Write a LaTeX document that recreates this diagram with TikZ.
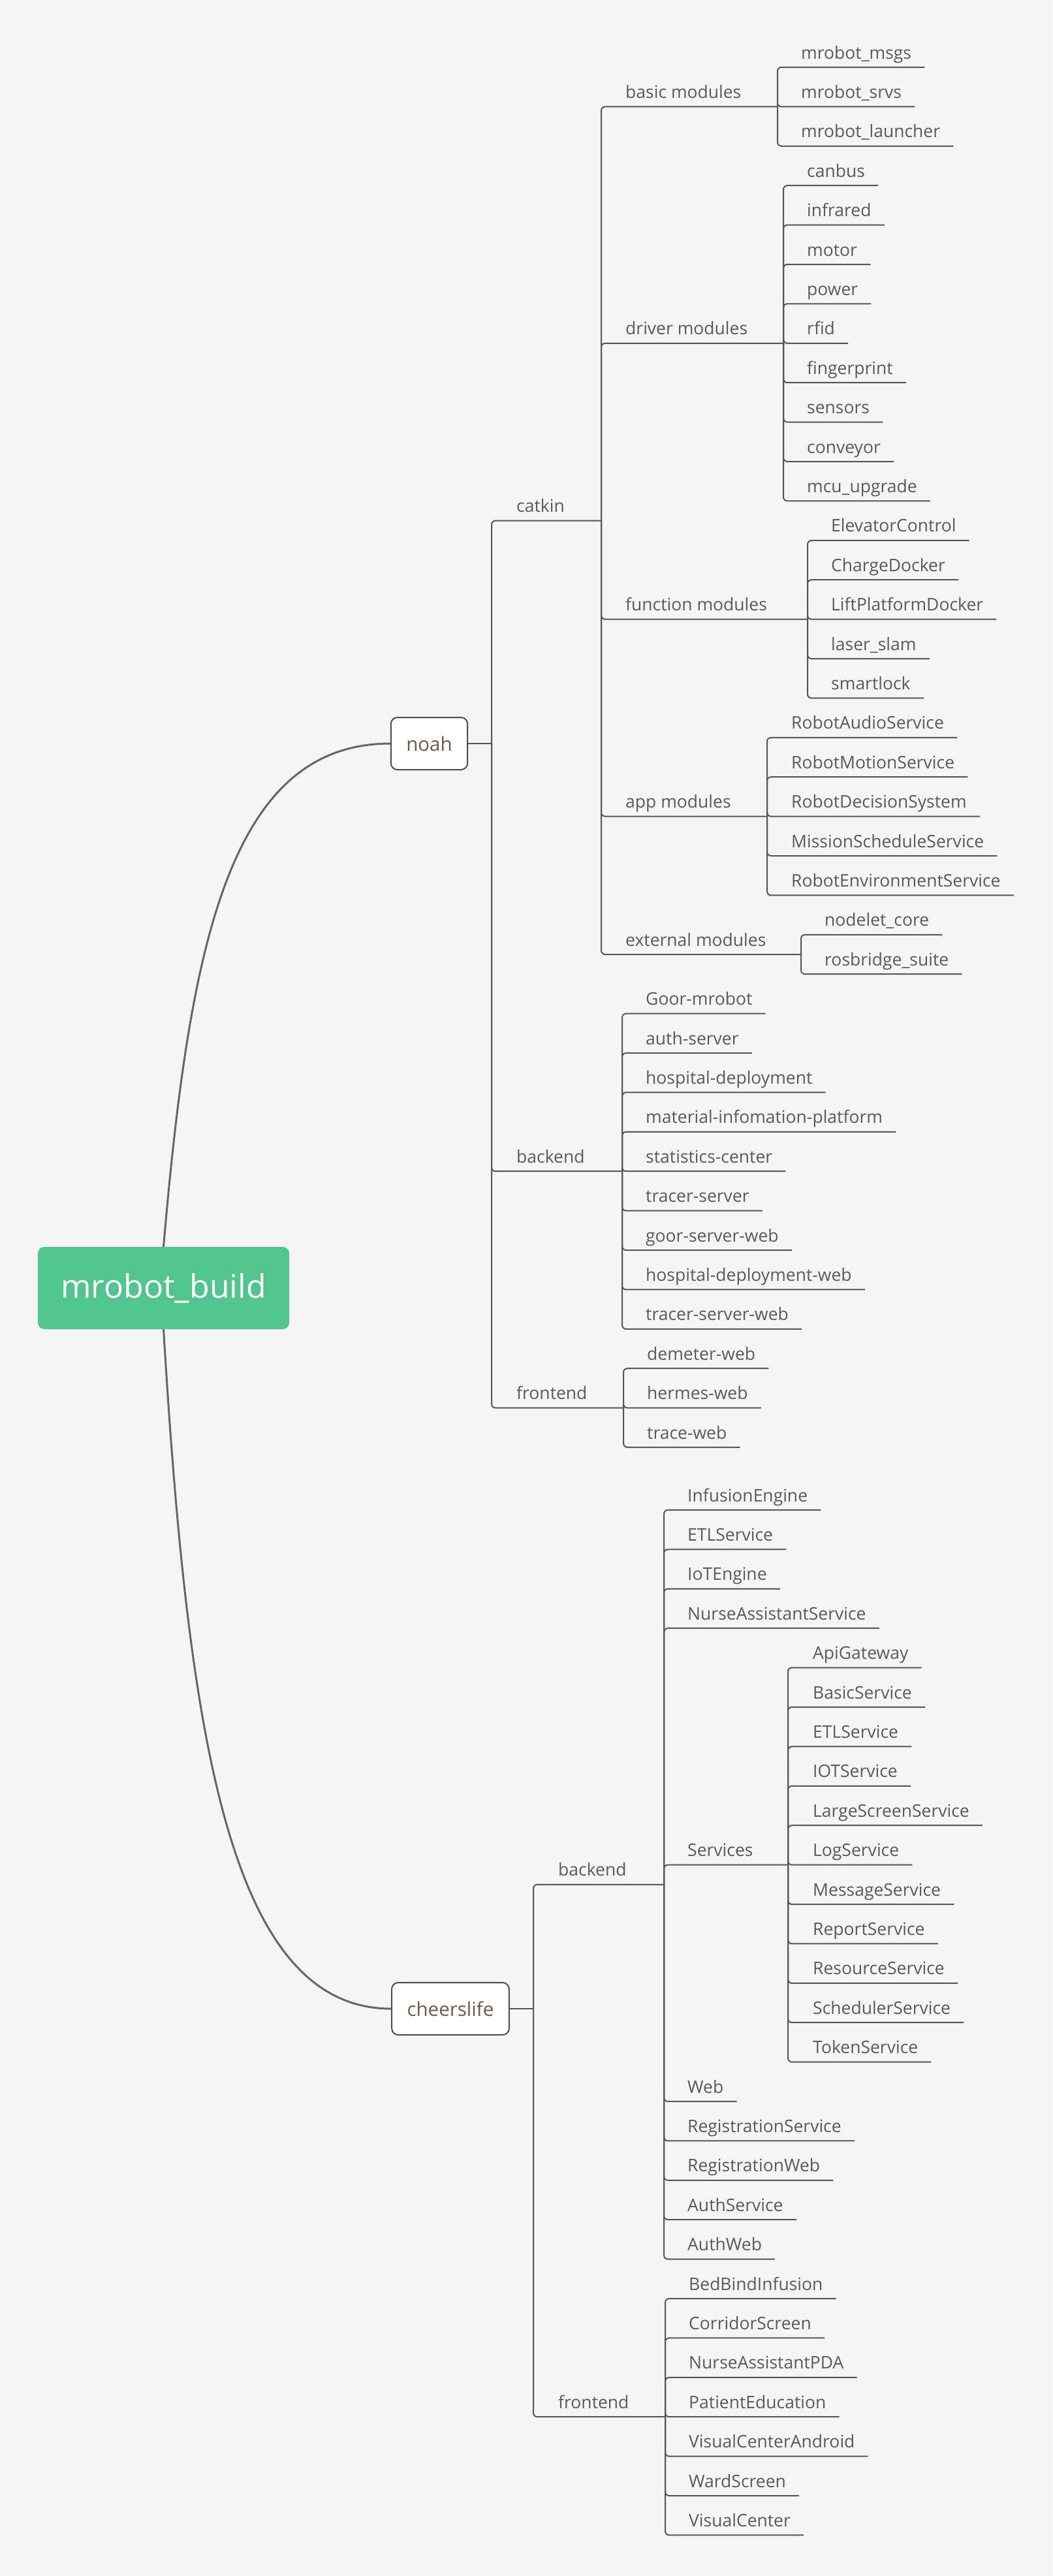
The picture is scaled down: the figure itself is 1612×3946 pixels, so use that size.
\documentclass[tikz,border=0pt]{standalone}
\usepackage{fontspec}
\setmainfont{Open Sans}
\usetikzlibrary{calc}
\definecolor{bgc}{HTML}{F5F5F5}
\definecolor{lnc}{HTML}{555555}
\definecolor{txc}{HTML}{5A5A5A}
\definecolor{brc}{HTML}{6E5A44}
\definecolor{boxc}{HTML}{4D4D4D}
\definecolor{crc}{HTML}{666666}
\definecolor{rootg}{HTML}{52C48D}
\newcommand\tn[4]{\node[tx] (#1) at (#2,{#3-13}) {#4};}
\newcommand\lf[2]{\draw[conn] (#1) |- ($(#2.base east)+(20,13)$);}
\newcommand\ua[1]{103+60.4*#1}
\newcommand\ub[1]{2313+60.4*#1}
\begin{document}
\begin{tikzpicture}[x=1pt,y=-1pt,
  tx/.style={font=\fontsize{26.5}{30}\selectfont, text=txc, inner sep=0pt, anchor=base west},
  conn/.style={draw=lnc, line width=2pt, rounded corners=6pt},
  topic/.style={draw=boxc, line width=2pt, fill=white, rounded corners=10pt, font=\fontsize{29.5}{34}\selectfont, text=brc, inner xsep=23.5pt, minimum height=80pt},
  rootnode/.style={fill=rootg, rounded corners=10pt, text=white, font=\fontsize{50}{60}\selectfont, minimum width=385pt, minimum height=126pt},
  curve/.style={draw=crc, line width=3pt}]
\fill[bgc] (0,0) rectangle (1612,3946);
\useasboundingbox (0,0) rectangle (1612,3946);

% root and main topics
\node[rootnode] (root) at (250.5,1973) {mrobot\_build};
\node[topic] (noah) at (657.5,1139) {noah};
\node[topic] (cheers) at (690,3077) {cheerslife};
\draw[curve] (root.north) .. controls (290,1450) and (350,1139) .. (noah.west);
\draw[curve] (root.south) .. controls (288,2656) and (350,3077) .. (cheers.west);

% junctions
\coordinate (Jnoah) at (753,1139);
\coordinate (Jcatkin) at (921,797.6);
\coordinate (Jbasic) at (1191,{\ua{1}});
\coordinate (Jdriver) at (1200,{\ua{7}});
\coordinate (Jfunction) at (1237,{\ua{14}});
\coordinate (Japp) at (1175,{\ua{19}});
\coordinate (Jexternal) at (1227,{\ua{22.5}});
\coordinate (Jbackend) at (953,{\ua{28}});
\coordinate (Jfrontend) at (955,{\ua{34}});
\coordinate (Jcl) at (817,3077);
\coordinate (JclB) at (1017,{\ub{9.5}});
\coordinate (JServ) at (1207,{\ub{9}});
\coordinate (JclF) at (1019,{\ub{23}});

% noah level-2 / level-3 texts
\tn{catkin}{791}{797.6}{catkin}
\tn{backend}{791}{\ua{28}}{backend}
\tn{frontend}{791}{\ua{34}}{frontend}
\tn{basic}{958}{\ua{1}}{basic modules}
\tn{driver}{958}{\ua{7}}{driver modules}
\tn{function}{958}{\ua{14}}{function modules}
\tn{app}{958}{\ua{19}}{app modules}
\tn{external}{958}{\ua{22.5}}{external modules}

% leaves of noah
\tn{msgs}{1227}{\ua{0}}{mrobot\_msgs}
\tn{srvs}{1227}{\ua{1}}{mrobot\_srvs}
\tn{launcher}{1227}{\ua{2}}{mrobot\_launcher}
\tn{canbus}{1236}{\ua{3}}{canbus}
\tn{infrared}{1236}{\ua{4}}{infrared}
\tn{motor}{1236}{\ua{5}}{motor}
\tn{power}{1236}{\ua{6}}{power}
\tn{rfid}{1236}{\ua{7}}{rfid}
\tn{finger}{1236}{\ua{8}}{fingerprint}
\tn{sensors}{1236}{\ua{9}}{sensors}
\tn{conveyor}{1236}{\ua{10}}{conveyor}
\tn{mcu}{1236}{\ua{11}}{mcu\_upgrade}
\tn{elev}{1273}{\ua{12}}{ElevatorControl}
\tn{charge}{1273}{\ua{13}}{ChargeDocker}
\tn{lift}{1273}{\ua{14}}{LiftPlatformDocker}
\tn{laser}{1273}{\ua{15}}{laser\_slam}
\tn{smart}{1273}{\ua{16}}{smartlock}
\tn{audio}{1212}{\ua{17}}{RobotAudioService}
\tn{motion}{1212}{\ua{18}}{RobotMotionService}
\tn{decision}{1212}{\ua{19}}{RobotDecisionSystem}
\tn{mission}{1212}{\ua{20}}{MissionScheduleService}
\tn{environ}{1212}{\ua{21}}{RobotEnvironmentService}
\tn{nodelet}{1263}{\ua{22}}{nodelet\_core}
\tn{rosbridge}{1263}{\ua{23}}{rosbridge\_suite}
\tn{goor}{989}{\ua{24}}{Goor-mrobot}
\tn{auth}{989}{\ua{25}}{auth-server}
\tn{hosp}{989}{\ua{26}}{hospital-deployment}
\tn{material}{989}{\ua{27}}{material-infomation-platform}
\tn{stat}{989}{\ua{28}}{statistics-center}
\tn{tracer}{989}{\ua{29}}{tracer-server}
\tn{goorweb}{989}{\ua{30}}{goor-server-web}
\tn{hospweb}{989}{\ua{31}}{hospital-deployment-web}
\tn{tracerweb}{989}{\ua{32}}{tracer-server-web}
\tn{demeter}{991}{\ua{33}}{demeter-web}
\tn{hermes}{991}{\ua{34}}{hermes-web}
\tn{traceweb}{991}{\ua{35}}{trace-web}

% cheerslife texts
\tn{clback}{855}{\ub{9.5}}{backend}
\tn{clfront}{855}{\ub{23}}{frontend}
\tn{infusion}{1053}{\ub{0}}{InfusionEngine}
\tn{etl}{1053}{\ub{1}}{ETLService}
\tn{iot}{1053}{\ub{2}}{IoTEngine}
\tn{nurse}{1053}{\ub{3}}{NurseAssistantService}
\tn{services}{1053}{\ub{9}}{Services}
\tn{web}{1053}{\ub{15}}{Web}
\tn{regserv}{1053}{\ub{16}}{RegistrationService}
\tn{regweb}{1053}{\ub{17}}{RegistrationWeb}
\tn{authserv}{1053}{\ub{18}}{AuthService}
\tn{authweb}{1053}{\ub{19}}{AuthWeb}
\tn{api}{1245}{\ub{4}}{ApiGateway}
\tn{basicserv}{1245}{\ub{5}}{BasicService}
\tn{etlserv}{1245}{\ub{6}}{ETLService}
\tn{iotserv}{1245}{\ub{7}}{IOTService}
\tn{large}{1245}{\ub{8}}{LargeScreenService}
\tn{log}{1245}{\ub{9}}{LogService}
\tn{message}{1245}{\ub{10}}{MessageService}
\tn{report}{1245}{\ub{11}}{ReportService}
\tn{resource}{1245}{\ub{12}}{ResourceService}
\tn{sched}{1245}{\ub{13}}{SchedulerService}
\tn{token}{1245}{\ub{14}}{TokenService}
\tn{bedbind}{1055}{\ub{20}}{BedBindInfusion}
\tn{corridor}{1055}{\ub{21}}{CorridorScreen}
\tn{pda}{1055}{\ub{22}}{NurseAssistantPDA}
\tn{patient}{1055}{\ub{23}}{PatientEducation}
\tn{vcandroid}{1055}{\ub{24}}{VisualCenterAndroid}
\tn{ward}{1055}{\ub{25}}{WardScreen}
\tn{visual}{1055}{\ub{26}}{VisualCenter}

% connectors: noah
\draw[conn] (noah.east) -- (Jnoah);
\draw[conn] (Jnoah) |- (Jcatkin);
\draw[conn] (Jnoah) |- (Jbackend);
\draw[conn] (Jnoah) |- (Jfrontend);
\draw[conn] (Jcatkin) |- (Jbasic);
\draw[conn] (Jcatkin) |- (Jdriver);
\draw[conn] (Jcatkin) |- (Jfunction);
\draw[conn] (Jcatkin) |- (Japp);
\draw[conn] (Jcatkin) |- (Jexternal);
\foreach \n in {msgs,srvs,launcher}{\lf{Jbasic}{\n}}
\foreach \n in {canbus,infrared,motor,power,rfid,finger,sensors,conveyor,mcu}{\lf{Jdriver}{\n}}
\foreach \n in {elev,charge,lift,laser,smart}{\lf{Jfunction}{\n}}
\foreach \n in {audio,motion,decision,mission,environ}{\lf{Japp}{\n}}
\foreach \n in {nodelet,rosbridge}{\lf{Jexternal}{\n}}
\foreach \n in {goor,auth,hosp,material,stat,tracer,goorweb,hospweb,tracerweb}{\lf{Jbackend}{\n}}
\foreach \n in {demeter,hermes,traceweb}{\lf{Jfrontend}{\n}}

% connectors: cheerslife
\draw[conn] (cheers.east) -- (Jcl);
\draw[conn] (Jcl) |- (JclB);
\draw[conn] (Jcl) |- (JclF);
\draw[conn] (JclB) |- (JServ);
\foreach \n in {infusion,etl,iot,nurse,web,regserv,regweb,authserv,authweb}{\lf{JclB}{\n}}
\foreach \n in {api,basicserv,etlserv,iotserv,large,log,message,report,resource,sched,token}{\lf{JServ}{\n}}
\foreach \n in {bedbind,corridor,pda,patient,vcandroid,ward,visual}{\lf{JclF}{\n}}
\end{tikzpicture}
\end{document}
